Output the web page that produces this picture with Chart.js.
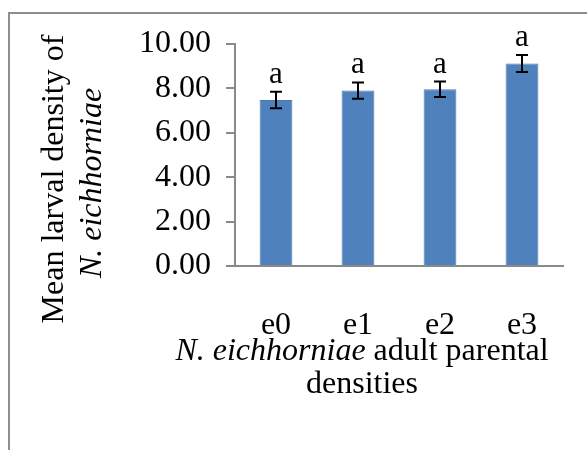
<!DOCTYPE html>
<html>
<head>
<meta charset="utf-8">
<script src="https://cdn.jsdelivr.net/npm/chart.js@4/dist/chart.umd.min.js"></script>
<style>
    html, body { margin: 0; padding: 0; background: #fff; overflow: hidden; }
    #wrap { position: relative; width: 587px; height: 450px; overflow: hidden; }
    #frame { position: absolute; left: 8px; top: 12px; width: 620px; height: 480px; border: 2px solid #8e8e8e; }
    #chart { position: absolute; left: 0; top: 0; }
</style>
</head>
<body>
<div id="wrap">
    <div id="frame"></div>
    <canvas id="chart" width="587" height="450"></canvas>
</div>
<script>
// 데이터
const categories = ['e0', 'e1', 'e2', 'e3'];
const meanDensity = [7.48, 7.90, 7.96, 9.12];
const stdError = [0.37, 0.37, 0.35, 0.38];
const groupLetters = ['a', 'a', 'a', 'a'];
const yTicks = [0, 2, 4, 6, 8, 10];

const SERIF = '"Liberation Serif", "Times New Roman", serif';

// 오차 막대 + 유의성 문자
const errorBarPlugin = {
    id: 'errorBars',
    afterDatasetsDraw(chart) {
        const ctx = chart.ctx;
        const x = chart.scales.x;
        const y = chart.scales.y;
        ctx.save();
        ctx.strokeStyle = '#000';
        ctx.lineWidth = 2;
        categories.forEach((c, i) => {
            const cx = x.getPixelForValue(i);
            const top = y.getPixelForValue(meanDensity[i] + stdError[i]);
            const bot = y.getPixelForValue(meanDensity[i] - stdError[i]);
            ctx.beginPath();
            ctx.moveTo(cx, top); ctx.lineTo(cx, bot);
            ctx.moveTo(cx - 6, top); ctx.lineTo(cx + 6, top);
            ctx.moveTo(cx - 6, bot); ctx.lineTo(cx + 6, bot);
            ctx.stroke();

            ctx.fillStyle = '#000';
            ctx.font = '31px ' + SERIF;
            ctx.textAlign = 'center';
            ctx.textBaseline = 'alphabetic';
            ctx.fillText(groupLetters[i], cx, top - 9);
        });
        ctx.restore();
    }
};

// 축 제목 (이탤릭 섞인 텍스트)
const axisTitlePlugin = {
    id: 'axisTitles',
    afterDraw(chart) {
        const ctx = chart.ctx;
        ctx.save();
        ctx.fillStyle = '#000';
        ctx.textBaseline = 'middle';

        // x축 제목 첫 줄
        const italicPart = 'N. eichhorniae';
        const normalPart = ' adult parental';
        ctx.font = 'italic 32px ' + SERIF;
        const w1 = ctx.measureText(italicPart).width;
        ctx.font = '32px ' + SERIF;
        const w2 = ctx.measureText(normalPart).width;
        const cx = 362;
        const sx = cx - (w1 + w2) / 2;
        ctx.textAlign = 'left';
        ctx.font = 'italic 32px ' + SERIF;
        ctx.fillText(italicPart, sx, 352);
        ctx.font = '32px ' + SERIF;
        ctx.fillText(normalPart, sx + w1, 352);
        ctx.textAlign = 'center';
        ctx.fillText('densities', cx, 385);

        // y축 제목 (회전)
        ctx.save();
        ctx.translate(55, 179);
        ctx.rotate(-Math.PI / 2);
        ctx.font = '32px ' + SERIF;
        ctx.fillText('Mean larval density of', 0, 0);
        ctx.restore();
        ctx.save();
        ctx.translate(93, 183);
        ctx.rotate(-Math.PI / 2);
        ctx.font = 'italic 32px ' + SERIF;
        ctx.fillText('N. eichhorniae', 0, 0);
        ctx.restore();

        ctx.restore();
    }
};

const ctx = document.getElementById('chart').getContext('2d');
new Chart(ctx, {
    type: 'bar',
    data: {
        labels: categories,
        datasets: [{
            data: meanDensity,
            backgroundColor: '#4f81bd',
            borderColor: '#4a7ab3',
            borderWidth: 1,
            barPercentage: 0.4,
            categoryPercentage: 1
        }]
    },
    options: {
        responsive: false,
        animation: false,
        layout: { padding: { top: 44, right: 24, left: 0, bottom: 0 } },
        plugins: {
            legend: { display: false },
            tooltip: { enabled: false }
        },
        scales: {
            x: {
                grid: { display: false, drawTicks: false },
                border: { color: '#8a8a8a', width: 2 },
                ticks: { color: '#000', font: { family: SERIF, size: 32 }, padding: 40 },
                afterFit: (s) => { s.height = 184; }
            },
            y: {
                min: 0,
                max: 10,
                afterBuildTicks: (s) => { s.ticks = yTicks.map(v => ({ value: v })); },
                grid: { drawOnChartArea: false, tickLength: 9, color: '#8a8a8a', lineWidth: 2 },
                border: { color: '#8a8a8a', width: 2 },
                ticks: {
                    color: '#000',
                    font: { family: SERIF, size: 32 },
                    padding: 15,
                    callback: (v) => Number(v).toFixed(2)
                },
                afterFit: (s) => { s.width = 235; }
            }
        }
    },
    plugins: [errorBarPlugin, axisTitlePlugin]
});
</script>
</body>
</html>
